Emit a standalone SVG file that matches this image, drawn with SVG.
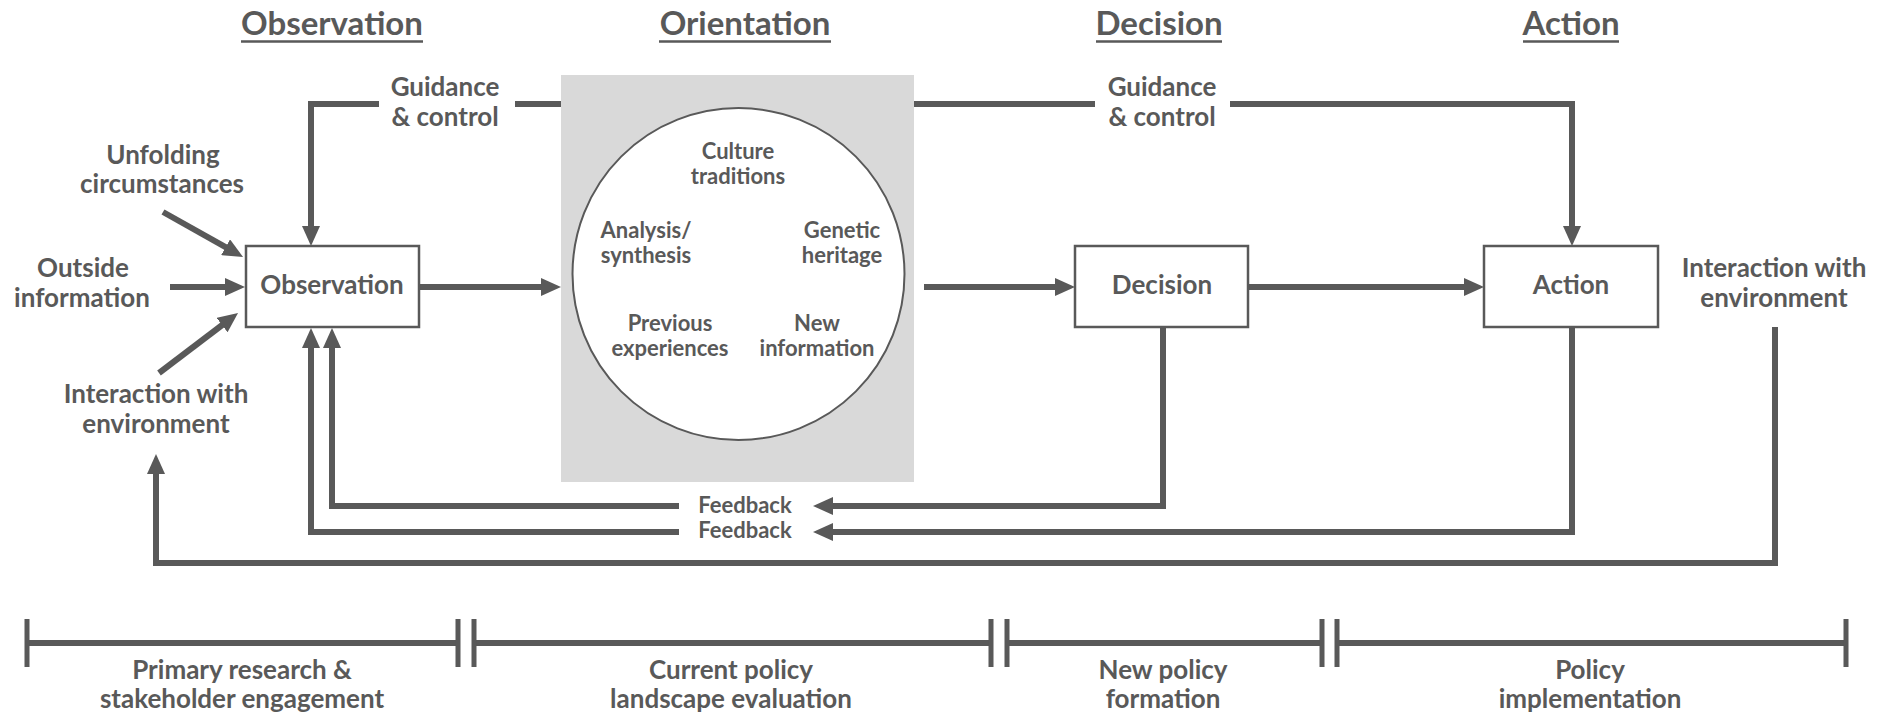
<svg xmlns="http://www.w3.org/2000/svg" width="1887" height="715" viewBox="0 0 1887 715">
<defs>
<style>
text { font-family: Lato, "Liberation Sans", sans-serif; font-weight: bold; fill: #595959; text-anchor: middle; }
.title { font-size: 33px; }
.lbl { font-size: 26px; }
.fb { font-size: 22px; }
.c { font-size: 22px; }
.conn { fill: none; stroke: #595959; stroke-width: 6; stroke-linejoin: miter; }
.box { fill: #fff; stroke: #595959; stroke-width: 2.5; }
.ul { stroke: #595959; stroke-width: 2.5; }
.tl { stroke: #595959; stroke-width: 6; fill: none; }
.tick { stroke: #595959; stroke-width: 5; }
</style>
<marker id="ah" markerUnits="userSpaceOnUse" viewBox="0 0 20 18" refX="1" refY="9" markerWidth="20" markerHeight="18" orient="auto"><path d="M0,0 L20,9 L0,18 Z" fill="#595959"/></marker>
</defs>
<rect x="0" y="0" width="1887" height="715" fill="#fff"/>

<g id="titles">
<text class="title" x="332" y="35">Observation</text>
<line class="ul" x1="241" y1="41.5" x2="423" y2="41.5"/>
<text class="title" x="745" y="35">Orientation</text>
<line class="ul" x1="659" y1="41.5" x2="831" y2="41.5"/>
<text class="title" x="1159" y="35">Decision</text>
<line class="ul" x1="1096" y1="41.5" x2="1222" y2="41.5"/>
<text class="title" x="1571" y="35">Action</text>
<line class="ul" x1="1523" y1="41.5" x2="1619" y2="41.5"/>
</g>

<g id="connectors">
<path class="conn" d="M379,104 H311 V227" marker-end="url(#ah)"/>
<path class="conn" d="M515,104 H561"/>
<path class="conn" d="M914,104 H1095"/>
<path class="conn" d="M1230,104 H1572 V227" marker-end="url(#ah)"/>
<path class="conn" d="M163,212 L226.5,247.7" marker-end="url(#ah)"/>
<path class="conn" d="M170,287 H226" marker-end="url(#ah)"/>
<path class="conn" d="M159,373 L222.9,324.5" marker-end="url(#ah)"/>
<path class="conn" d="M419,287 H542" marker-end="url(#ah)"/>
<path class="conn" d="M924,287 H1056" marker-end="url(#ah)"/>
<path class="conn" d="M1248,287 H1465" marker-end="url(#ah)"/>
<path class="conn" d="M1163,327 V506 H832" marker-end="url(#ah)"/>
<path class="conn" d="M679,506 H332 V347" marker-end="url(#ah)"/>
<path class="conn" d="M1572,327 V532 H832" marker-end="url(#ah)"/>
<path class="conn" d="M679,532 H311 V347" marker-end="url(#ah)"/>
<path class="conn" d="M1775,327 V563 H156 V473" marker-end="url(#ah)"/>
</g>

<g id="orientation">
<rect x="561" y="75" width="353" height="407" fill="#d9d9d9"/>
<circle cx="738.5" cy="274" r="166" fill="#fff" stroke="#595959" stroke-width="2"/>
<text class="c" x="738" y="159">Culture</text>
<text class="c" x="738" y="184">traditions</text>
<text class="c" x="646" y="238">Analysis/</text>
<text class="c" x="646" y="263">synthesis</text>
<text class="c" x="842" y="238">Genetic</text>
<text class="c" x="842" y="263">heritage</text>
<text class="c" x="670" y="331">Previous</text>
<text class="c" x="670" y="356">experiences</text>
<text class="c" x="817" y="331">New</text>
<text class="c" x="817" y="356">information</text>
</g>

<g id="observation">
<rect class="box" x="246" y="246" width="173" height="81"/>
<text class="lbl" x="332" y="294">Observation</text>
</g>
<g id="decision">
<rect class="box" x="1075" y="246" width="173" height="81"/>
<text class="lbl" x="1162" y="294">Decision</text>
</g>
<g id="action">
<rect class="box" x="1484" y="246" width="174" height="81"/>
<text class="lbl" x="1571" y="294">Action</text>
</g>

<g id="labels">
<text class="lbl" x="445" y="96">Guidance</text>
<text class="lbl" x="445" y="126">&amp; control</text>
<text class="lbl" x="1162" y="96">Guidance</text>
<text class="lbl" x="1162" y="126">&amp; control</text>
<text class="lbl" x="163" y="164">Unfolding</text>
<text class="lbl" x="162" y="193">circumstances</text>
<text class="lbl" x="83" y="277">Outside</text>
<text class="lbl" x="82" y="307">information</text>
<text class="lbl" x="156" y="403">Interaction with</text>
<text class="lbl" x="156" y="433">environment</text>
<text class="lbl" x="1774" y="277">Interaction with</text>
<text class="lbl" x="1774" y="307">environment</text>
<text class="fb" x="745" y="513">Feedback</text>
<text class="fb" x="745" y="538">Feedback</text>
</g>

<g id="timeline">
<path class="tl" d="M27,643 H458 M474,643 H991 M1007,643 H1322 M1337,643 H1846"/>
<path class="tick" d="M27,619 V667 M458,619 V667 M474,619 V667 M991,619 V667 M1007,619 V667 M1322,619 V667 M1337,619 V667 M1846,619 V667"/>
<text class="lbl" x="242" y="679">Primary research &amp;</text>
<text class="lbl" x="242" y="708">stakeholder engagement</text>
<text class="lbl" x="731" y="679">Current policy</text>
<text class="lbl" x="731" y="708">landscape evaluation</text>
<text class="lbl" x="1163" y="679">New policy</text>
<text class="lbl" x="1163" y="708">formation</text>
<text class="lbl" x="1590" y="679">Policy</text>
<text class="lbl" x="1590" y="708">implementation</text>
</g>
</svg>
